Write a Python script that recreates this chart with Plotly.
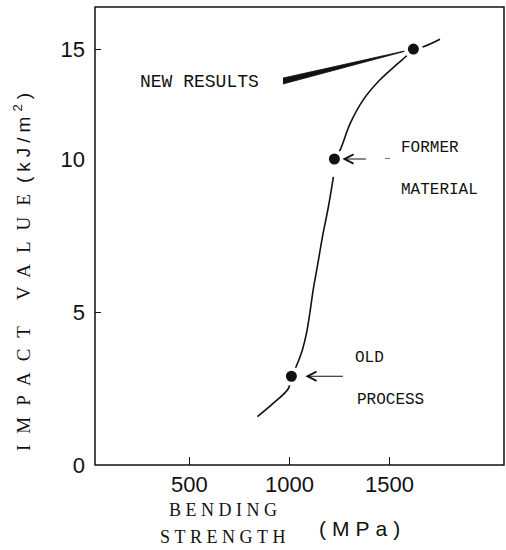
import plotly.graph_objects as go

# ---------------- data ----------------
# Bending strength (MPa) / impact value (kJ/m2)
curve_low_x = [840, 920, 995, 1010, 1028, 1062, 1087, 1103, 1120, 1140, 1165, 1195, 1220]
curve_low_y = [1.58, 2.02, 2.5, 2.9, 3.13, 3.7, 4.36, 5.0, 5.77, 6.5, 7.45, 8.44, 9.42]
curve_up_x = [1225, 1253, 1303, 1370, 1453, 1537, 1584, 1620, 1670, 1753]
curve_up_y = [10.0, 10.4, 11.6, 12.7, 13.6, 14.3, 14.67, 15.0, 15.1, 15.44]

point_names = ["OLD PROCESS", "FORMER MATERIAL", "NEW RESULTS"]
point_x = [1010, 1225, 1620]
point_y = [2.9, 10.0, 15.0]

# "NEW RESULTS" wedge
band_x = [968, 1620]
band_upper = [13.68, 15.0]
band_lower = [13.41, 15.0]

x_ticks = [500, 1000, 1500]
y_ticks_low = [0, 5]
y_ticks_up = [10, 15]

# ---------------- figure ----------------
SPLIT = 0.6681  # the drawn y scale is tighter above 10 than below it
BLACK = "#111111"
TICKFONT = dict(family="Liberation Sans Narrow, Liberation Sans, Arial, sans-serif",
                size=22, color=BLACK)
MONO = "Liberation Mono, DejaVu Sans Mono, monospace"
SERIF = "Liberation Serif, DejaVu Serif, serif"

fig = go.Figure()

fig.add_trace(go.Scatter(x=curve_low_x, y=curve_low_y, mode="lines", line_shape="spline",
                         line=dict(color=BLACK, width=1.6), xaxis="x", yaxis="y",
                         hoverinfo="skip"))
fig.add_trace(go.Scatter(x=curve_up_x, y=curve_up_y, mode="lines", line_shape="spline",
                         line=dict(color=BLACK, width=1.6), xaxis="x", yaxis="y2",
                         hoverinfo="skip"))
fig.add_trace(go.Scatter(x=band_x + band_x[::-1], y=band_upper + band_lower[::-1],
                         mode="lines", fill="toself", fillcolor=BLACK,
                         line=dict(color=BLACK, width=0.8), xaxis="x", yaxis="y2",
                         hoverinfo="skip"))
# points (white halo gives the gaps in the curve)
fig.add_trace(go.Scatter(x=point_x[:1], y=point_y[:1], mode="markers", text=point_names[:1],
                         marker=dict(size=15, color=BLACK, line=dict(color="white", width=4)),
                         xaxis="x", yaxis="y", cliponaxis=False))
fig.add_trace(go.Scatter(x=point_x[1:], y=point_y[1:], mode="markers", text=point_names[1:],
                         marker=dict(size=15, color=BLACK, line=dict(color="white", width=4)),
                         xaxis="x", yaxis="y2", cliponaxis=False))

annotations = [
    # labels
    dict(x=548, y=13.5, xref="x", yref="y2", text="NEW RESULTS", showarrow=False,
         font=dict(family=MONO, size=18, color=BLACK)),
    dict(x=1701, y=10.5, xref="x", yref="y2", text="FORMER", showarrow=False,
         font=dict(family=MONO, size=16, color=BLACK)),
    dict(x=1751, y=8.99, xref="x", yref="y", text="MATERIAL", showarrow=False,
         font=dict(family=MONO, size=16, color=BLACK)),
    dict(x=1398, y=3.5, xref="x", yref="y", text="OLD", showarrow=False,
         font=dict(family=MONO, size=16, color=BLACK)),
    dict(x=1503, y=2.12, xref="x", yref="y", text="PROCESS", showarrow=False,
         font=dict(family=MONO, size=16, color=BLACK)),
    # arrows to the points
    dict(x=point_x[0], y=point_y[0], xref="x", yref="y", ax=53, ay=0, text="",
         showarrow=True, arrowhead=5, arrowsize=1.5, arrowwidth=1.2, arrowcolor=BLACK,
         standoff=14),
    dict(x=point_x[1], y=point_y[1], xref="x", yref="y2", ax=33, ay=0, text="",
         showarrow=True, arrowhead=5, arrowsize=1.5, arrowwidth=1.2, arrowcolor=BLACK,
         standoff=8),
    # axis titles
    dict(x=0.319, y=-0.098, xref="paper", yref="paper", showarrow=False,
         xanchor="center", yanchor="middle",
         text='<span style="letter-spacing:4.5px">BENDING</span>',
         font=dict(family=SERIF, size=18, color=BLACK)),
    dict(x=0.319, y=-0.157, xref="paper", yref="paper", showarrow=False,
         xanchor="center", yanchor="middle",
         text='<span style="letter-spacing:4.5px">STRENGTH</span>',
         font=dict(family=SERIF, size=18, color=BLACK)),
    dict(x=0.653, y=-0.1376, xref="paper", yref="paper", showarrow=False,
         xanchor="center", yanchor="middle",
         text='<span style="letter-spacing:6px">(MPa)</span>',
         font=dict(family="Liberation Sans, Arial, sans-serif", size=21, color=BLACK)),
    dict(x=-0.178, y=0.426, xref="paper", yref="paper", showarrow=False, textangle=-90,
         xanchor="center", yanchor="middle",
         text='<span style="font-family:Liberation Serif;letter-spacing:11px">IMPACT VALUE</span>'
              '<span style="font-family:Liberation Sans;letter-spacing:5px">(kJ/m<sup>2</sup>)</span>',
         font=dict(family=SERIF, size=19, color=BLACK)),
]

shapes = [
    dict(type="rect", xref="paper", yref="paper", x0=0, x1=1, y0=0, y1=1,
         line=dict(color=BLACK, width=1.5)),
    dict(type="line", xref="x", yref="y2", x0=1478, x1=1503, y0=point_y[1], y1=point_y[1],
         line=dict(color=BLACK, width=1.2)),
]

fig.update_layout(
    width=506, height=550, autosize=False,
    margin=dict(l=95, r=2, t=7, b=85),
    paper_bgcolor="white", plot_bgcolor="white",
    showlegend=False,
    xaxis=dict(range=[28, 2073], tickvals=x_ticks, ticks="inside", ticklen=8,
               tickwidth=1.2, tickcolor=BLACK, showgrid=False, zeroline=False,
               showline=False, tickfont=TICKFONT, anchor="y", ticklabelstandoff=4,
               automargin=False),
    yaxis=dict(domain=[0, SPLIT], range=[0, 10], tickvals=y_ticks_low, ticks="inside",
               ticklen=6, tickwidth=1.2, tickcolor=BLACK, showgrid=False, zeroline=False,
               showline=False, tickfont=TICKFONT, ticklabelstandoff=9, automargin=False),
    yaxis2=dict(domain=[SPLIT, 1], range=[10, 16.91], tickvals=y_ticks_up, ticks="inside",
                ticklen=6, tickwidth=1.2, tickcolor=BLACK, showgrid=False, zeroline=False,
                showline=False, tickfont=TICKFONT, anchor="x", ticklabelstandoff=9,
                automargin=False),
    annotations=annotations,
    shapes=shapes,
)

post = ("document.body.style.margin='0';document.body.style.overflow='hidden';"
        "Plotly.relayout('{plot_id}', {width: 506, height: 550});")
fig.write_html("out.html", config={"responsive": False, "displayModeBar": False},
               post_script=post)
